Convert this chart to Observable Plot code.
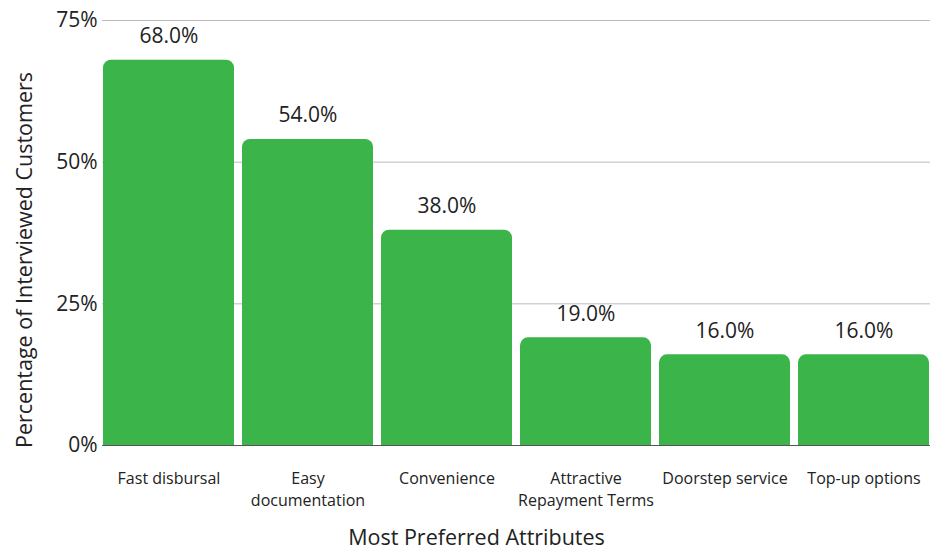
<!DOCTYPE html>
<html>
<head>
<meta charset="utf-8">
<script src="https://cdn.jsdelivr.net/npm/d3@7"></script>
<script src="https://cdn.jsdelivr.net/npm/@observablehq/plot@0.6"></script>
<style>
  html, body { margin: 0; padding: 0; background: #fff; }
  #chart svg { display: block; }
</style>
</head>
<body>
<div id="chart"></div>
<script>
const categories = ["Fast disbursal", "Easy\ndocumentation", "Convenience", "Attractive\nRepayment Terms", "Doorstep service", "Top-up options"];
const values = [68, 54, 38, 19, 16, 16];
const yTicks = [0, 25, 50, 75];
const xTitle = "Most Preferred Attributes";
const yTitle = "Percentage of Interviewed Customers";

const data = categories.map((c, i) => ({category: c, value: values[i]}));
const green = "#3bb54a";
const font = "'Open Sans', 'Noto Sans', sans-serif";

const chart = Plot.plot({
  width: 933,
  height: 549,
  marginLeft: 102,
  marginRight: 3,
  marginTop: 20,
  marginBottom: 104,
  style: {fontFamily: font, background: "#fff", color: "#222"},
  x: {domain: categories, paddingInner: 0.06, paddingOuter: 0, label: null},
  y: {domain: [0, 75], label: null},
  marks: [
    Plot.gridY(yTicks.filter(t => t > 0), {stroke: "#bbb", strokeOpacity: 1, strokeWidth: 1}),
    Plot.barY(data, {x: "category", y: "value", fill: green, rx: 8}),
    Plot.barY(data, {x: "category", y1: 0, y2: d => d.value / 2, fill: green}),
    Plot.ruleY([0], {stroke: "#555", strokeWidth: 1}),
    Plot.axisY({ticks: yTicks, tickFormat: d => d + "%", tickSize: 0, tickPadding: 5, fontSize: 21, label: null, fill: "#222"}),
    Plot.axisX({tickSize: 0, tickPadding: 23, fontSize: 16, lineHeight: 1.375, label: null, fill: "#222"}),
    Plot.text(data, {x: "category", y: "value", text: d => d.value.toFixed(1) + "%", dy: -24, fontSize: 21, fill: "#222"}),
    Plot.text([yTitle], {frameAnchor: "left", textAnchor: "middle", lineAnchor: "middle", rotate: -90, dx: -77, dy: 27, fontSize: 21.5, fill: "#222"}),
    Plot.text([xTitle], {frameAnchor: "bottom", textAnchor: "middle", lineAnchor: "middle", dy: 93, dx: -40, fontSize: 21.5, fill: "#222"})
  ]
});
document.getElementById("chart").appendChild(chart);
</script>
</body>
</html>
